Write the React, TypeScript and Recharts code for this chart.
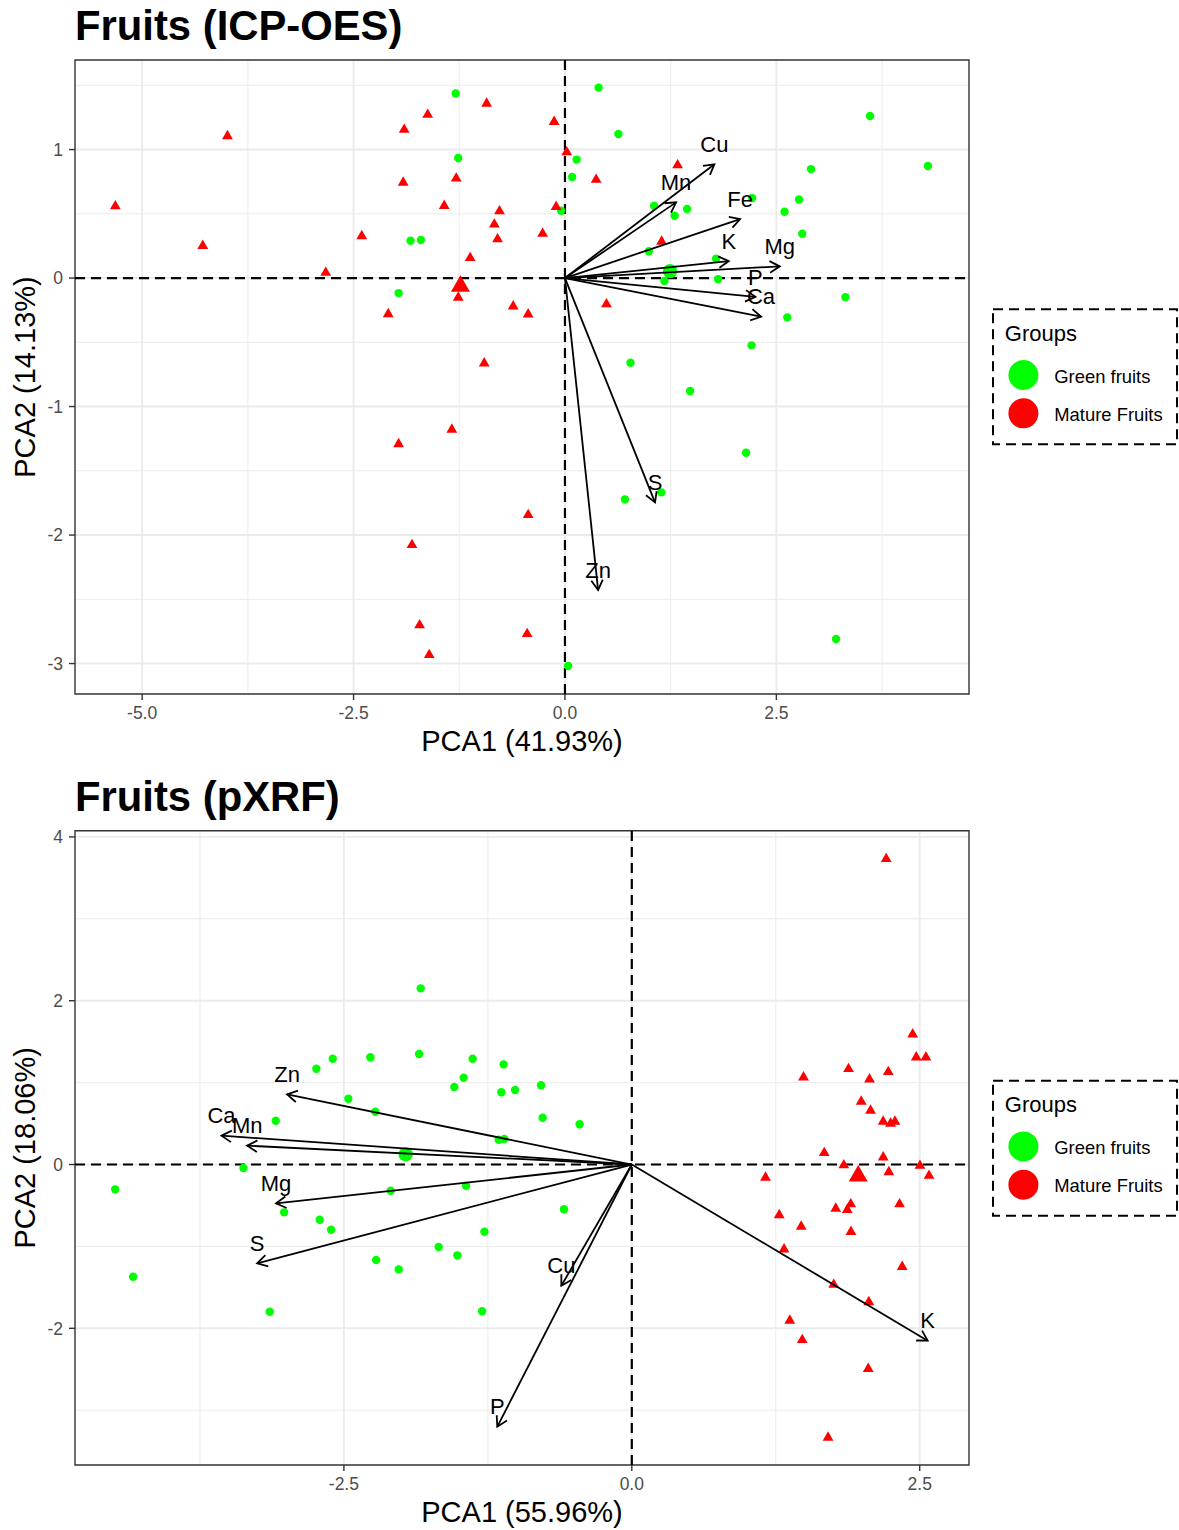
import React from 'react';
import { ScatterChart, Scatter, XAxis, YAxis, CartesianGrid, ReferenceArea } from 'recharts';

const FONT = '"Liberation Sans", Arial, Helvetica, sans-serif';
const GREEN = '#00FF00';
const RED = '#FF0000';

const groupNames = ['Green fruits', 'Mature Fruits'];
const legendTitle = 'Groups';

// ---------- Panel 1 : ICP-OES ----------
const icpTitle = 'Fruits (ICP-OES)';
const icpXLabel = 'PCA1 (41.93%)';
const icpYLabel = 'PCA2 (14.13%)';
const icpXTicks = [-5, -2.5, 0, 2.5];
const icpYTicks = [1, 0, -1, -2, -3];
const icpXMinor = [-3.75, -1.25, 1.25, 3.75];
const icpYMinor = [1.5, 0.5, -0.5, -1.5, -2.5];
const icpXDomain = [-5.794, 4.778];
const icpYDomain = [-3.237, 1.697];

const icpGreen = [
  [-1.292, 1.436], [0.398, 1.482], [0.632, 1.121], [-1.262, 0.934], [0.138, 0.922], [0.085, 0.786], [-0.045, 0.524],
  [-1.826, 0.29], [-1.704, 0.296], [-1.967, -0.117], [3.608, 1.261], [4.293, 0.872], [2.91, 0.848], [1.054, 0.563],
  [1.444, 0.537], [1.297, 0.485], [2.213, 0.623], [2.768, 0.611], [2.597, 0.516], [2.806, 0.345], [0.992, 0.209],
  [1.787, 0.15], [1.176, -0.023], [1.811, -0.008], [3.316, -0.148], [2.629, -0.306], [2.207, -0.524], [0.775, -0.659],
  [1.48, -0.879], [2.142, -1.36], [0.709, -1.722], [1.139, -1.668], [3.206, -2.809], [0.038, -3.019],
];
const icpRed = [
  [-5.317, 0.572], [-4.283, 0.263], [-3.991, 1.117], [-2.829, 0.054], [-2.403, 0.339], [-2.09, -0.268], [-1.967, -1.28],
  [-1.901, 1.167], [-1.913, 0.755], [-1.809, -2.065], [-1.719, -2.689], [-1.623, 1.284], [-1.605, -2.921], [-1.428, 0.574],
  [-1.338, -1.167], [-1.286, 0.788], [-1.262, -0.14], [-1.121, 0.169], [-0.955, -0.651], [-0.926, 1.37], [-0.835, 0.43],
  [-0.797, 0.315], [-0.774, 0.532], [-0.612, -0.208], [-0.435, -1.831], [-0.447, -2.757], [-0.435, -0.27], [-0.264, 0.358],
  [-0.128, 1.228], [-0.104, 0.567], [0.021, 0.992], [0.369, 0.778], [0.491, -0.191], [1.332, 0.891], [1.143, 0.296],
];
const icpGreenMean = [1.243, 0.054];
const icpRedMean = [-1.236, -0.043];
const icpVarNames = ['Cu', 'Mn', 'Fe', 'K', 'Mg', 'P', 'Ca', 'S', 'Zn'];
const icpVarX = [1.767, 1.314, 2.071, 1.937, 2.54, 2.252, 2.319, 1.065, 0.392];
const icpVarY = [0.885, 0.589, 0.459, 0.132, 0.091, -0.146, -0.301, -1.746, -2.428];

// ---------- Panel 2 : pXRF ----------
const xrfTitle = 'Fruits (pXRF)';
const xrfXLabel = 'PCA1 (55.96%)';
const xrfYLabel = 'PCA2 (18.06%)';
const xrfXTicks = [-2.5, 0, 2.5];
const xrfYTicks = [4, 2, 0, -2];
const xrfXMinor = [-3.75, -1.25, 1.25];
const xrfYMinor = [3, 1, -1, -3];
const xrfXDomain = [-4.835, 2.928];
const xrfYDomain = [-3.669, 4.076];

const xrfGreen = [
  [-1.833, 2.151], [-1.847, 1.349], [-2.27, 1.309], [-2.597, 1.292], [-2.739, 1.17], [-1.382, 1.292], [-1.113, 1.223],
  [-1.46, 1.06], [-1.541, 0.946], [-1.133, 0.882], [-1.014, 0.91], [-0.788, 0.967], [-2.461, 0.803], [-2.227, 0.645],
  [-3.092, 0.535], [-0.774, 0.571], [-0.453, 0.491], [-1.156, 0.303], [-1.107, 0.311], [-3.372, -0.043], [-4.486, -0.303],
  [-2.094, -0.32], [-1.439, -0.259], [-3.019, -0.584], [-2.71, -0.674], [-2.611, -0.796], [-0.589, -0.547], [-1.28, -0.821],
  [-1.677, -1.007], [-1.515, -1.109], [-2.22, -1.166], [-2.024, -1.28], [-4.33, -1.37], [-3.144, -1.797], [-1.3, -1.792],
];
const xrfRed = [
  [2.209, 3.751], [2.439, 1.609], [2.47, 1.328], [2.554, 1.328], [1.491, 1.084], [1.882, 1.187], [2.064, 1.06],
  [2.227, 1.15], [1.992, 0.788], [2.073, 0.678], [2.183, 0.543], [2.247, 0.519], [2.285, 0.543], [1.671, 0.161],
  [2.183, 0.107], [1.841, 0.01], [2.502, 0.004], [2.232, -0.073], [2.581, -0.118], [1.161, -0.14], [1.771, -0.519],
  [1.871, -0.534], [1.901, -0.466], [2.325, -0.466], [1.28, -0.598], [1.471, -0.739], [1.903, -0.803], [1.322, -1.016],
  [2.348, -1.23], [1.753, -1.449], [2.058, -1.661], [1.372, -1.886], [1.48, -2.122], [2.053, -2.476], [1.704, -3.315],
];
const xrfGreenMean = [-1.964, 0.125];
const xrfRedMean = [1.966, -0.107];
const xrfVarNames = ['Zn', 'Ca', 'Mn', 'Mg', 'S', 'Cu', 'P', 'K'];
const xrfVarX = [-2.993, -3.563, -3.34, -3.089, -3.253, -0.612, -1.168, 2.569];
const xrfVarY = [0.857, 0.352, 0.23, -0.474, -1.206, -1.48, -3.201, -2.151];

// ---------- helpers ----------
const toPts = (arr: number[][]) => arr.map(([x, y]) => ({ x, y }));

const circleShape = (r: number, color: string) => (p: any) => (
  <circle cx={p.cx} cy={p.cy} r={r} fill={color} />
);
const triangleShape = (s: number, color: string) => (p: any) => {
  const h = (s * Math.sqrt(3)) / 2;
  const { cx, cy } = p;
  return (
    <polygon
      points={`${cx},${cy - h / 2} ${cx - s / 2},${cy + h / 2} ${cx + s / 2},${cy + h / 2}`}
      fill={color}
    />
  );
};
const noShape = () => <g />;

const makeArrows = (names: string[]) => (props: any) => {
  const pts = props.points || [];
  if (pts.length < 2) return <g />;
  const o = pts[0];
  const L = 11.5;
  const a = Math.PI / 6;
  return (
    <g>
      {pts.slice(1).map((p: any, i: number) => {
        const dx = p.x - o.x;
        const dy = p.y - o.y;
        const len = Math.hypot(dx, dy) || 1;
        const bx = -dx / len;
        const by = -dy / len;
        const w1x = p.x + L * (bx * Math.cos(a) - by * Math.sin(a));
        const w1y = p.y + L * (bx * Math.sin(a) + by * Math.cos(a));
        const w2x = p.x + L * (bx * Math.cos(-a) - by * Math.sin(-a));
        const w2y = p.y + L * (bx * Math.sin(-a) + by * Math.cos(-a));
        return (
          <g key={i}>
            <line x1={o.x} y1={o.y} x2={p.x} y2={p.y} stroke="#000" strokeWidth={1.8} />
            <polyline
              points={`${w1x},${w1y} ${p.x},${p.y} ${w2x},${w2y}`}
              fill="none"
              stroke="#000"
              strokeWidth={1.8}
            />
            <text x={p.x} y={p.y - 12.3} textAnchor="middle" fontSize={22} fontFamily={FONT} fill="#000">
              {names[i]}
            </text>
          </g>
        );
      })}
    </g>
  );
};

type PanelProps = {
  top: number;
  height: number;
  marginTop: number;
  xLabel: string;
  yLabel: string;
  xTicks: number[];
  yTicks: number[];
  xMinor: number[];
  yMinor: number[];
  xDomain: number[];
  yDomain: number[];
  green: number[][];
  red: number[][];
  greenMean: number[];
  redMean: number[];
  varNames: string[];
  varX: number[];
  varY: number[];
};

const dashLine = { stroke: '#000', strokeWidth: 2.2, strokeDasharray: '10 6' };

const Panel = (pp: PanelProps) => {
  const arrowData = [{ x: 0, y: 0 }, ...pp.varX.map((x, i) => ({ x, y: pp.varY[i] }))];
  const tickStyle = { fontSize: 17.5, fill: '#4D4D4D', fontFamily: FONT };
  return (
    <div style={{ position: 'absolute', left: 0, top: pp.top }}>
      <ScatterChart
        width={980}
        height={pp.height}
        margin={{ top: pp.marginTop, right: 11, bottom: 0, left: 0 }}
      >
        <CartesianGrid
          stroke="#EBEBEB"
          strokeWidth={1}
          horizontalValues={pp.yMinor}
          verticalValues={pp.xMinor}
        />
        <CartesianGrid
          stroke="#EBEBEB"
          strokeWidth={1.9}
          horizontalValues={pp.yTicks}
          verticalValues={pp.xTicks}
        />
        <XAxis
          type="number"
          dataKey="x"
          domain={pp.xDomain}
          allowDataOverflow
          ticks={pp.xTicks}
          tickFormatter={(v: number) => v.toFixed(1)}
          tick={tickStyle}
          tickLine={{ stroke: '#333333', strokeWidth: 1.4 }}
          tickSize={6}
          tickMargin={7}
          axisLine={false}
          height={76}
          interval={0}
          label={{ value: pp.xLabel, position: 'insideBottom', offset: 19.5, fontSize: 29, fill: '#000', fontFamily: FONT }}
        />
        <YAxis
          type="number"
          dataKey="y"
          domain={pp.yDomain}
          allowDataOverflow
          ticks={pp.yTicks}
          tick={tickStyle}
          tickLine={{ stroke: '#333333', strokeWidth: 1.4 }}
          tickSize={6}
          tickMargin={6}
          axisLine={false}
          width={75}
          interval={0}
          label={{
            value: pp.yLabel,
            angle: -90,
            position: 'insideLeft',
            offset: 25,
            fontSize: 29,
            fill: '#000',
            fontFamily: FONT,
            style: { textAnchor: 'middle' },
          }}
        />
        <ReferenceArea
          x1={pp.xDomain[0]}
          x2={pp.xDomain[1]}
          y1={pp.yDomain[0]}
          y2={pp.yDomain[1]}
          fill="none"
          fillOpacity={0}
          stroke="#333333"
          strokeWidth={1.4}
          ifOverflow="visible"
        />
        <Scatter
          data={[{ x: pp.xDomain[0], y: 0 }, { x: pp.xDomain[1], y: 0 }]}
          line={dashLine}
          shape={noShape}
          isAnimationActive={false}
        />
        <Scatter
          data={[{ x: 0, y: pp.yDomain[0] }, { x: 0, y: pp.yDomain[1] }]}
          line={dashLine}
          shape={noShape}
          isAnimationActive={false}
        />
        <Scatter data={toPts(pp.green)} shape={circleShape(4.2, GREEN)} isAnimationActive={false} />
        <Scatter data={toPts(pp.red)} shape={triangleShape(10.8, RED)} isAnimationActive={false} />
        <Scatter data={toPts([pp.greenMean])} shape={circleShape(7.2, GREEN)} isAnimationActive={false} />
        <Scatter data={toPts([pp.redMean])} shape={triangleShape(19, RED)} isAnimationActive={false} />
        <Scatter
          data={arrowData}
          line={makeArrows(pp.varNames)}
          shape={noShape}
          isAnimationActive={false}
        />
      </ScatterChart>
    </div>
  );
};

const LegendBox = ({ top }: { top: number }) => (
  <g fontFamily={FONT}>
    <rect x={993} y={top} width={184} height={135} fill="#fff" stroke="#000" strokeWidth={2} strokeDasharray="10 6" />
    <text x={1004.8} y={top + 31.2} fontSize={22} fill="#000">{legendTitle}</text>
    <circle cx={1023.4} cy={top + 65.7} r={15} fill={GREEN} />
    <text x={1054.3} y={top + 73.2} fontSize={18.4} fill="#000">{groupNames[0]}</text>
    <circle cx={1023.4} cy={top + 104} r={15} fill={RED} />
    <text x={1054.3} y={top + 111.2} fontSize={18.4} fill="#000">{groupNames[1]}</text>
  </g>
);

export default function App() {
  return (
    <div style={{ position: 'absolute', left: 0, top: 0, width: 1179, height: 1530, background: '#fff', fontFamily: FONT }}>
      <Panel
        top={0}
        height={770}
        marginTop={60}
        xLabel={icpXLabel}
        yLabel={icpYLabel}
        xTicks={icpXTicks}
        yTicks={icpYTicks}
        xMinor={icpXMinor}
        yMinor={icpYMinor}
        xDomain={icpXDomain}
        yDomain={icpYDomain}
        green={icpGreen}
        red={icpRed}
        greenMean={icpGreenMean}
        redMean={icpRedMean}
        varNames={icpVarNames}
        varX={icpVarX}
        varY={icpVarY}
      />
      <Panel
        top={770}
        height={771}
        marginTop={60.7}
        xLabel={xrfXLabel}
        yLabel={xrfYLabel}
        xTicks={xrfXTicks}
        yTicks={xrfYTicks}
        xMinor={xrfXMinor}
        yMinor={xrfYMinor}
        xDomain={xrfXDomain}
        yDomain={xrfYDomain}
        green={xrfGreen}
        red={xrfRed}
        greenMean={xrfGreenMean}
        redMean={xrfRedMean}
        varNames={xrfVarNames}
        varX={xrfVarX}
        varY={xrfVarY}
      />
      <svg
        width={1179}
        height={1530}
        style={{ position: 'absolute', left: 0, top: 0, pointerEvents: 'none' }}
      >
        <text x={75} y={39.5} fontSize={41.8} fontWeight="bold" fontFamily={FONT} fill="#000">{icpTitle}</text>
        <text x={75} y={810.7} fontSize={41.8} fontWeight="bold" fontFamily={FONT} fill="#000">{xrfTitle}</text>
        <LegendBox top={309.3} />
        <LegendBox top={1080.7} />
      </svg>
    </div>
  );
}
